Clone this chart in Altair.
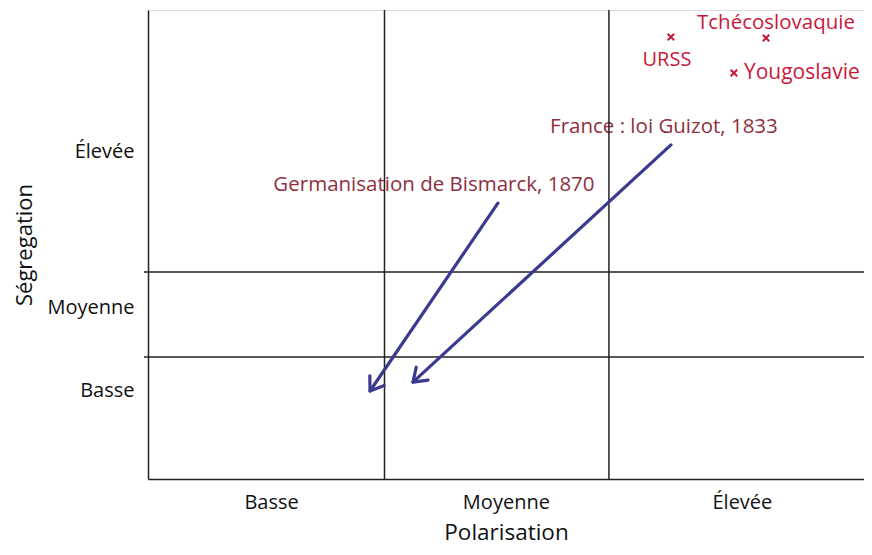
import math
import altair as alt
import pandas as pd

# ---- data (axis units: 3 cells on each axis) ----
x_cell_labels = ["Basse", "Moyenne", "Élevée"]
x_label_pos = [0.51, 1.483, 2.461]
y_cell_labels = ["Basse", "Moyenne", "Élevée"]
y_label_pos = [0.563, 1.100, 2.092]

x_bounds = [0.98, 1.91]
y_bounds = [0.780, 1.324]

countries = ["URSS", "Tchécoslovaquie", "Yougoslavie"]
country_x = [2.167, 2.561, 2.428]
country_y = [2.827, 2.821, 2.597]

arrow_names = ["Germanisation de Bismarck, 1870", "France : loi Guizot, 1833"]
arrow_x0 = [1.450, 2.167]
arrow_y0 = [1.765, 2.137]
arrow_x1 = [0.920, 1.098]
arrow_y1 = [0.563, 0.620]
label_x = [1.185, 2.138]
label_y = [1.881, 2.252]

W, H = 716, 469
XMAX, YMAX = 2.967, 3.0
px_x = W / XMAX
px_y = H / YMAX

FONT = "Open Sans"
ARROW = "#3a3a8e"
RED = "#c8193c"
DARKRED = "#8e2f3e"
LINE = "#222222"

xs = alt.Scale(domain=[0, XMAX], nice=False, zero=False)
ys = alt.Scale(domain=[0, YMAX], nice=False, zero=False)

angles = []
for a, b, c, d in zip(arrow_x0, arrow_y0, arrow_x1, arrow_y1):
    dx = (c - a) * px_x
    dy = -(d - b) * px_y
    ang = math.degrees(math.atan2(dx, -dy)) % 360
    angles.append(ang)

arrows = pd.DataFrame({
    "name": arrow_names, "x0": arrow_x0, "y0": arrow_y0,
    "x1": arrow_x1, "y1": arrow_y1, "lx": label_x, "ly": label_y,
    "angle": angles,
})
pts = pd.DataFrame({"name": countries, "x": country_x, "y": country_y})
hlines = pd.DataFrame({"y": y_bounds})
vlines = pd.DataFrame({"x": x_bounds})

x_expr = "datum.value < 1 ? '%s' : datum.value < 2 ? '%s' : '%s'" % tuple(x_cell_labels)
y_expr = "datum.value < 0.8 ? '%s' : datum.value < 1.5 ? '%s' : '%s'" % tuple(y_cell_labels)

base_x = alt.X("x:Q", scale=xs, title="Polarisation",
               axis=alt.Axis(values=x_label_pos, labelExpr=x_expr,
                             ticks=False, grid=False, domainColor=LINE, domainWidth=1.5,
                             labelFont=FONT, labelFontSize=20, labelColor="#111", labelPadding=13,
                             titleFont=FONT, titleFontSize=22.5, titleFontWeight="normal", titleColor="#111",
                             titlePadding=9))
base_y = alt.Y("y:Q", scale=ys, title="Ségregation",
               axis=alt.Axis(values=y_label_pos, labelExpr=y_expr,
                             ticks=False, grid=False, domainColor=LINE, domainWidth=1.5,
                             labelFont=FONT, labelFontSize=20, labelColor="#111", labelPadding=14,
                             titleFont=FONT, titleFontSize=22, titleFontWeight="normal", titleColor="#111",
                             titlePadding=10))

axes_layer = alt.Chart(pd.DataFrame({"x": [0.0], "y": [0.0]})).mark_point(opacity=0).encode(x=base_x, y=base_y)

h = alt.Chart(hlines).mark_rule(color=LINE, strokeWidth=1.5, clip=False).encode(
    x=alt.value(-4), x2=alt.value(W), y=alt.Y("y:Q", scale=ys))
v = alt.Chart(vlines).mark_rule(color=LINE, strokeWidth=1.5).encode(
    x=alt.X("x:Q", scale=xs), y=alt.value(0), y2=alt.value(H))

shafts = alt.Chart(arrows).mark_rule(color=ARROW, strokeWidth=3.2, strokeCap="round").encode(
    x=alt.X("x0:Q", scale=xs), y=alt.Y("y0:Q", scale=ys),
    x2="x1:Q", y2="y1:Q")
heads = alt.Chart(arrows).mark_point(
    shape="M -0.7 1 L 0 0 L 0.7 1", filled=False, color=ARROW, strokeWidth=3.2,
    size=620, opacity=1, strokeCap="round", strokeJoin="round").encode(
    x=alt.X("x1:Q", scale=xs), y=alt.Y("y1:Q", scale=ys),
    angle=alt.Angle("angle:Q", scale=None))
alabels = alt.Chart(arrows).mark_text(font=FONT, fontSize=20.5, color=DARKRED).encode(
    x=alt.X("lx:Q", scale=xs), y=alt.Y("ly:Q", scale=ys), text="name:N")

marks = alt.Chart(pts).mark_point(
    shape="M -1 -1 L 1 1 M -1 1 L 1 -1", filled=False, color=RED, strokeWidth=2,
    size=42, opacity=1).encode(x=alt.X("x:Q", scale=xs), y=alt.Y("y:Q", scale=ys))

t_urss = alt.Chart(pts).transform_filter(alt.datum.name == "URSS").mark_text(
    font=FONT, fontSize=20, color=RED, dy=23, dx=-4).encode(
    x=alt.X("x:Q", scale=xs), y=alt.Y("y:Q", scale=ys), text="name:N")
t_tch = alt.Chart(pts).transform_filter(alt.datum.name == "Tchécoslovaquie").mark_text(
    font=FONT, fontSize=20.5, color=RED, dy=-15, dx=10).encode(
    x=alt.X("x:Q", scale=xs), y=alt.Y("y:Q", scale=ys), text="name:N")
t_you = alt.Chart(pts).transform_filter(alt.datum.name == "Yougoslavie").mark_text(
    font=FONT, fontSize=21, color=RED, align="left", dx=10).encode(
    x=alt.X("x:Q", scale=xs), y=alt.Y("y:Q", scale=ys), text="name:N")

chart = alt.layer(axes_layer, alabels, h, v, shafts, heads, marks, t_urss, t_tch, t_you).properties(
    width=W, height=H,
    autosize=alt.AutoSizeParams(type="none"),
    padding={"left": 140, "top": 2, "right": 0, "bottom": 67},
).configure_view(stroke=None).configure(background="white")

chart.save("out.html", embed_options={"renderer": "svg", "actions": False})
